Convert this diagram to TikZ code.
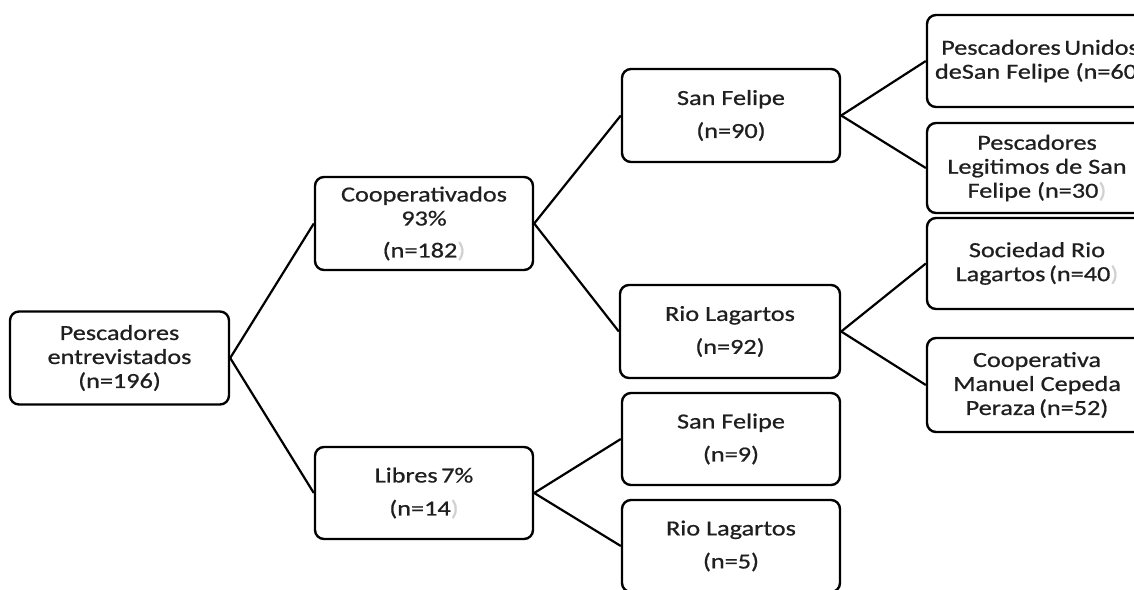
\documentclass[tikz,border=0pt]{standalone}
\usepackage{fontspec}
\setmainfont{Carlito}[FakeStretch=1.22,FakeBold=0.7]
\begin{document}
\begin{tikzpicture}[x=1pt,y=-1pt,
  box/.style={draw=black, line width=2.4pt, rounded corners=9pt, fill=white,
    minimum width=218pt, minimum height=93pt, inner sep=0pt, align=center,
    font=\fontsize{21.5}{24}\selectfont, text=black!88},
  link/.style={draw=black, line width=2.2pt}]
\useasboundingbox (0,0) rectangle (1134,589);
\clip (0,0) rectangle (1134,589);
\newcommand{\fp}{\textcolor{black!18}{)}}
\node[box, minimum width=219pt] (root) at (119.5,358) {Pescadores\\entrevistados\\(n=196)};
\node[box] (coop) at (424,223.5) {Cooperativados\\93\%\\[8pt](n=182\fp};
\node[box, minimum height=92pt] (lib) at (424,493) {Libres\,7\%\\[9pt](n=14\fp};
\node[box] (sf1) at (731,115.5) {San Felipe\\[9pt](n=90)};
\node[box, minimum width=220pt] (rl1) at (730,331.5) {Rio Lagartos\\[9pt](n=92)};
\node[box, minimum height=92pt] (sf2) at (731,439) {San Felipe\\[9pt](n=9)};
\node[box, minimum height=92pt] (rl2) at (731,546) {Rio Lagartos\\[9pt](n=5)};
\node[box, minimum width=226pt, minimum height=92pt] (p1) at (1040,61) {Pescadores\,Unidos\\deSan Felipe (n=60)};
\node[box, minimum width=220pt, minimum height=90pt] (p2) at (1037,168) {Pescadores\\Legitimos de San\\Felipe (n=30\fp};
\node[box, minimum width=220pt, minimum height=91pt] (p3) at (1037,263.5) {Sociedad Rio\\Lagartos\,(n=40\fp};
\node[box, minimum width=220pt, minimum height=94pt] (p4) at (1037,385) {Cooperativa\\Manuel Cepeda\\Peraza\,(n=52)};
\draw[link] (root.east) -- (coop.west);
\draw[link] (root.east) -- (lib.west);
\draw[link] (coop.east) -- (sf1.west);
\draw[link] (coop.east) -- (rl1.west);
\draw[link] (lib.east) -- (sf2.west);
\draw[link] (lib.east) -- (rl2.west);
\draw[link] (sf1.east) -- (p1.west);
\draw[link] (sf1.east) -- (p2.west);
\draw[link] (rl1.east) -- (p3.west);
\draw[link] (rl1.east) -- (p4.west);
\end{tikzpicture}
\end{document}
